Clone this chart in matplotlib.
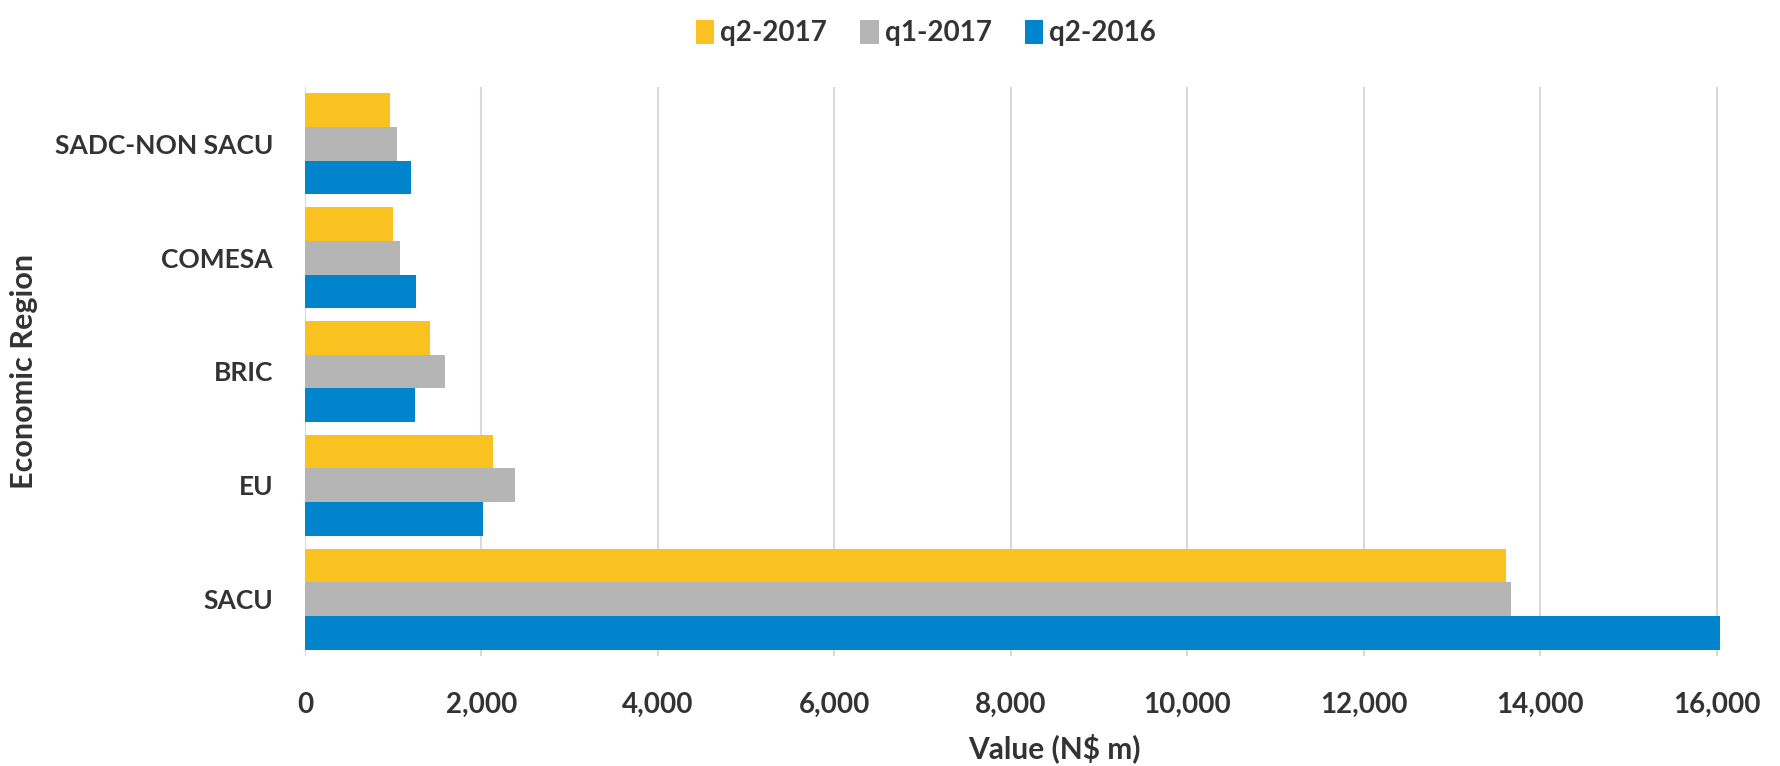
import matplotlib.pyplot as plt
import numpy as np
from matplotlib.ticker import FuncFormatter

plt.rcParams["font.family"] = ["Lato", "DejaVu Sans"]
plt.rcParams["font.weight"] = "bold"
plt.rcParams["axes.labelweight"] = "bold"

regions = ["SACU", "EU", "BRIC", "COMESA", "SADC-NON SACU"]
q2_2017 = [13617, 2134, 1413, 997, 967]
q1_2017 = [13666, 2383, 1583, 1076, 1046]
q2_2016 = [16042, 2017, 1246, 1254, 1197]

series = [
    ("q2-2017", q2_2017, "#F9C221"),
    ("q1-2017", q1_2017, "#B5B5B5"),
    ("q2-2016", q2_2016, "#0084CC"),
]

text_color = "#333333"
h = 0.296
y = np.arange(len(regions))

fig = plt.figure(figsize=(17.81, 7.66), dpi=100)
ax = fig.add_axes([305 / 1781, 1 - 656 / 766, (1721 - 305) / 1781, (656 - 87) / 766])

offsets = [h, 0, -h]
for (label, vals, color), off in zip(series, offsets):
    ax.barh(y + off, vals, height=h, color=color, label=label, zorder=3)

ax.set_xlim(0, 16050)
ax.set_ylim(-0.5, len(regions) - 0.5)
ax.set_xticks(range(0, 16001, 2000))
ax.xaxis.set_major_formatter(FuncFormatter(lambda v, p: f"{int(v):,}"))
ax.set_yticks(y)
ax.set_yticklabels(regions)

ax.grid(axis="x", color="#D9D9D9", linewidth=1.5, zorder=0)
ax.grid(axis="y", visible=False)
for s in ax.spines.values():
    s.set_visible(False)
ax.tick_params(axis="both", length=0, labelsize=20, labelcolor=text_color)
ax.tick_params(axis="y", pad=23, labelsize=19)
ax.tick_params(axis="x", pad=26)

ax.set_xlabel("Value (N$ m)", fontsize=21.5, color=text_color)
ax.xaxis.set_label_coords((1054 - 305) / (1721 - 305), -(733 - 656) / (656 - 87))
ax.set_ylabel("Economic Region", fontsize=22, color=text_color)
ax.yaxis.set_label_coords(-(305 - 38) / (1721 - 305), 0.5)

fig.legend(loc="center", bbox_to_anchor=(926 / 1781, 1 - 33 / 766), ncol=3,
           frameon=False, fontsize=20, handlelength=0.65, handleheight=0.95,
           handletextpad=0.22, columnspacing=1.2, labelcolor=text_color)

fig.savefig("out.png", dpi=100)
